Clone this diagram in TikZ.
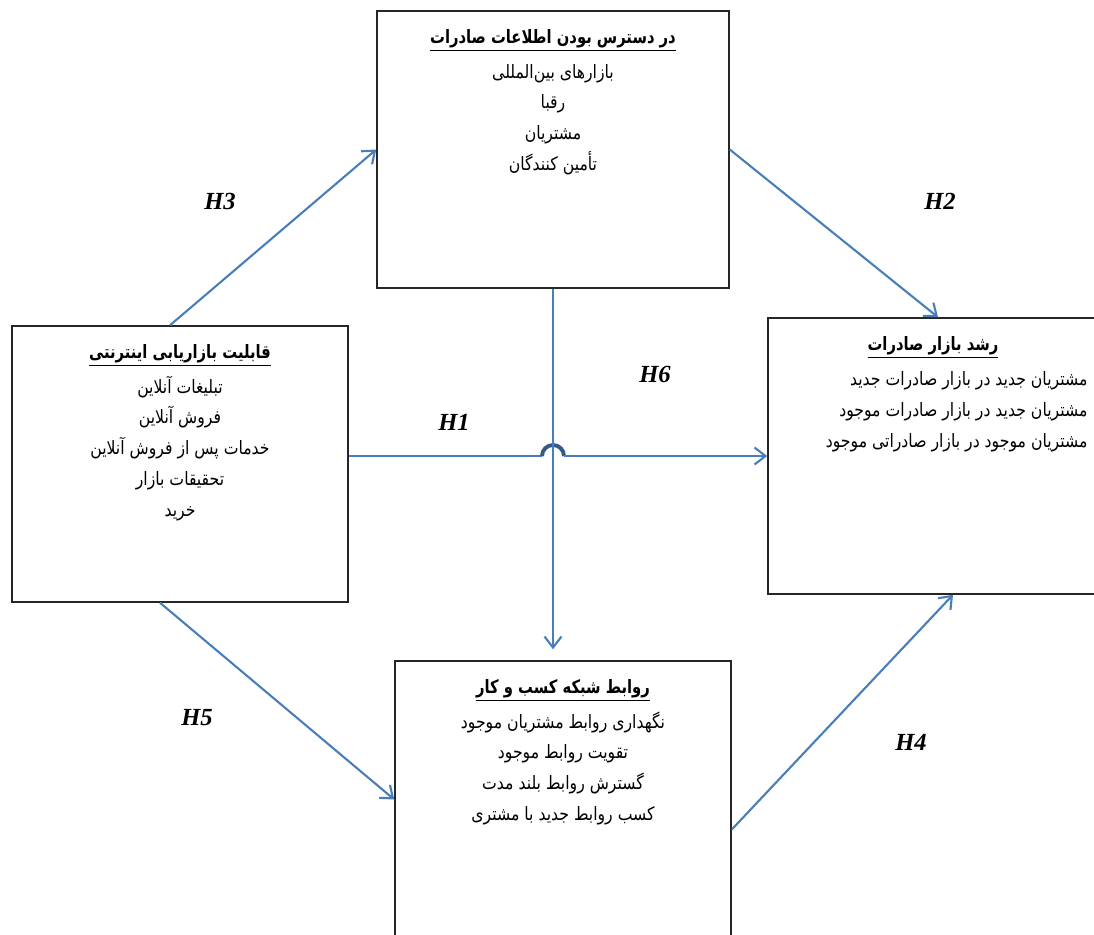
\documentclass[tikz,border=0pt]{standalone}
\usepackage{fontspec}
\newfontfamily\arabicfont[Script=Arabic, FakeStretch=0.85, BoldFeatures={FakeStretch=0.8}]{DejaVu Sans}
\newfontfamily\hypfont{Liberation Serif}
\TeXXeTstate=1
\usetikzlibrary{arrows.meta,positioning,calc}
\definecolor{linkblue}{RGB}{74,126,187}
\definecolor{jumpblue}{RGB}{52,90,136}
\newcommand\rtl[1]{%
    {\arabicfont\beginR #1\endR}}
\newcommand\rtlhead[1]{%
    \underline{\arabicfont\bfseries\beginR #1\endR}}
\tikzset{
  factor/.style={draw=black!85, line width=0.9pt, inner sep=0pt},
  factortext/.style={font=\fontsize{10.5}{17.6}\selectfont, align=center, inner sep=0pt},
  link/.style={draw=linkblue, line width=1.2pt, -{Straight Barb[length=2.2mm,width=3.4mm]}},
  jumpline/.style={draw=jumpblue, line width=2.2pt},
  hyp/.style={font=\hypfont\bfseries\itshape\fontsize{14}{16}\selectfont},
}

\begin{document}
\begin{tikzpicture}[x=0.02cm, y=0.02cm]
  \clip (0,0) rectangle (1094,-934);

  % boxes
  \node[factor, minimum width=70.4mm, minimum height=55.4mm] (info) at (553,-149.5) {};
  \node[factor, minimum width=67.2mm, minimum height=55.2mm] (mkt) at (180,-464) {};
  \node[factor, minimum width=66mm, minimum height=55.2mm] (growth) at (933,-456) {};
  \node[factor, minimum width=67.2mm, minimum height=55.4mm] (network) at (563,-799.5) {};

  % box texts
  \node[factortext, below=3.8mm of info.north] (infotext) {%
    \rtlhead{در دسترس بودن اطلاعات صادرات}\\[2pt]
    \rtl{بازارهای بین‌المللی}\\
    \rtl{رقبا}\\
    \rtl{مشتریان}\\
    \rtl{تأمین کنندگان}};
  \node[factortext, below=3.8mm of mkt.north] (mkttext) {%
    \rtlhead{قابلیت بازاریابی اینترنتی}\\[2pt]
    \rtl{تبلیغات آنلاین}\\
    \rtl{فروش آنلاین}\\
    \rtl{خدمات پس از فروش آنلاین}\\
    \rtl{تحقیقات بازار}\\
    \rtl{خرید}};
  \node[factortext, below=3.8mm of growth.north] (growthhead) {%
    \rtlhead{رشد بازار صادرات}};
  \node[factortext, align=right, anchor=north east] (growthtext)
    at ($(growth.north east)+(-11,-54)$) {%
    \rtl{مشتریان جدید در بازار صادرات جدید}\\
    \rtl{مشتریان جدید در بازار صادرات موجود}\\
    \rtl{مشتریان موجود در بازار صادراتی موجود}};
  \node[factortext, below=3.8mm of network.north] (networktext) {%
    \rtlhead{روابط شبکه کسب و کار}\\[2pt]
    \rtl{نگهداری روابط مشتریان موجود}\\
    \rtl{تقویت روابط موجود}\\
    \rtl{گسترش روابط بلند مدت}\\
    \rtl{کسب روابط جدید با مشتری}};

  % connectors
  \coordinate (cross) at (info.south |- growth.west);
  \draw[link, -] (mkt.east |- cross) -- ($(cross)+(-11,0)$);
  \draw[jumpline] ($(cross)+(-11,0)$) arc[start angle=180, end angle=0, radius=2.2mm];
  \draw[link] ($(cross)+(11,0)$) -- (growth.west);
  \draw[link] (info.south) -- ($(info.south |- network.north)+(0,11)$);
  \draw[link] ([xshift=-2mm]mkt.north) -- (info.west);
  \draw[link] (info.east) -- ([xshift=1mm]growth.north);
  \draw[link] ([xshift=-4mm]mkt.south) -- (network.west);
  \draw[link] ([yshift=-6mm]network.east) -- ([xshift=4mm]growth.south);

  % hypotheses
  \node[hyp] (h3) at (220,-201) {H3};
  \node[hyp] (h2) at (940,-201) {H2};
  \node[hyp] (h6) at (655,-374) {H6};
  \node[hyp] (h1) at (454,-422) {H1};
  \node[hyp] (h5) at (197,-718) {H5};
  \node[hyp] (h4) at (911,-742) {H4};
\end{tikzpicture}
\end{document}
